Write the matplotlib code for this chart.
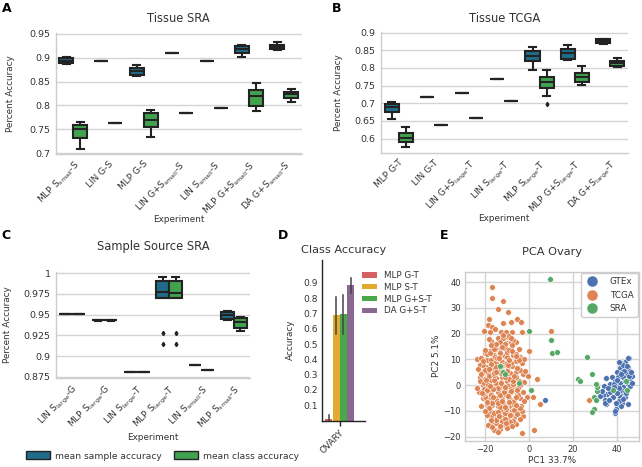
import matplotlib
matplotlib.use("Agg")
import matplotlib.pyplot as plt
from matplotlib.patches import Patch
from matplotlib.lines import Line2D
from matplotlib.ticker import FuncFormatter
import numpy as np

# ---------------- data ----------------
A_cats = [r"MLP S$_{\mathrm{small}}$-S", "LIN G-S", "MLP G-S", r"LIN G+S$_{\mathrm{small}}$-S",
          r"LIN S$_{\mathrm{small}}$-S", r"MLP G+S$_{\mathrm{small}}$-S", r"DA G+S$_{\mathrm{small}}$-S"]
A_samp_lo  = [0.887, 0.8938, 0.862, 0.9093, 0.8938, 0.902, 0.917]
A_samp_q1  = [0.888, 0.8938, 0.8636, 0.9093, 0.8938, 0.9093, 0.9184]
A_samp_med = [0.894, 0.8938, 0.872, 0.9093, 0.8938, 0.9177, 0.9233]
A_samp_q3  = [0.899, 0.8938, 0.8777, 0.9093, 0.8938, 0.9247, 0.9268]
A_samp_hi  = [0.901, 0.8938, 0.8847, 0.9093, 0.8938, 0.9265, 0.9324]
A_cls_lo   = [0.709, 0.7639, 0.7337, 0.7843, 0.7948, 0.7892, 0.8074]
A_cls_q1   = [0.7323, 0.7639, 0.7548, 0.7843, 0.7948, 0.799, 0.8145]
A_cls_med  = [0.7499, 0.7639, 0.7702, 0.7843, 0.7948, 0.820, 0.823]
A_cls_q3   = [0.7583, 0.7639, 0.7843, 0.7843, 0.7948, 0.8313, 0.8271]
A_cls_hi   = [0.7653, 0.7639, 0.7899, 0.7843, 0.7948, 0.846, 0.8341]

B_cats = ["MLP G-T", "LIN G-T", r"LIN G+S$_{\mathrm{large}}$-T", r"LIN S$_{\mathrm{large}}$-T",
          r"MLP S$_{\mathrm{large}}$-T", r"MLP G+S$_{\mathrm{large}}$-T", r"DA G+S$_{\mathrm{large}}$-T"]
B_samp_lo  = [0.6547, 0.7191, 0.7295, 0.7693, 0.793, 0.824, 0.8687]
B_samp_q1  = [0.6746, 0.7191, 0.7295, 0.7693, 0.8186, 0.8252, 0.8706]
B_samp_med = [0.6898, 0.7191, 0.7295, 0.7693, 0.8328, 0.8422, 0.8773]
B_samp_q3  = [0.6992, 0.7191, 0.7295, 0.7693, 0.8489, 0.8545, 0.881]
B_samp_hi  = [0.705, 0.7191, 0.7295, 0.7693, 0.8593, 0.8659, 0.883]
B_cls_lo   = [0.5761, 0.6386, 0.6576, 0.7078, 0.721, 0.7523, 0.8034]
B_cls_q1   = [0.5894, 0.6386, 0.6576, 0.7078, 0.7428, 0.7598, 0.8063]
B_cls_med  = [0.6027, 0.6386, 0.6576, 0.7078, 0.7598, 0.7741, 0.8138]
B_cls_q3   = [0.6169, 0.6386, 0.6576, 0.7078, 0.775, 0.7854, 0.8186]
B_cls_hi   = [0.6339, 0.6386, 0.6576, 0.7078, 0.793, 0.8044, 0.828]
B_cls_fliers = [[], [], [], [], [0.6973], [], []]

C_cats = [r"LIN S$_{\mathrm{large}}$-G", r"MLP S$_{\mathrm{large}}$-G", r"LIN S$_{\mathrm{large}}$-T",
          r"MLP S$_{\mathrm{large}}$-T", r"LIN S$_{\mathrm{small}}$-S", r"MLP S$_{\mathrm{small}}$-S"]
C_samp_lo  = [0.9508, 0.9424, 0.8811, 0.9705, 0.8897, 0.9438]
C_samp_q1  = [0.9508, 0.943, 0.8811, 0.9705, 0.8897, 0.945]
C_samp_med = [0.9508, 0.943, 0.8811, 0.977, 0.8897, 0.950]
C_samp_q3  = [0.9508, 0.943, 0.8811, 0.991, 0.8897, 0.9533]
C_samp_hi  = [0.9508, 0.9437, 0.8811, 0.9959, 0.8897, 0.9549]
C_cls_lo   = [0.9508, 0.9424, 0.8811, 0.9705, 0.8836, 0.9307]
C_cls_q1   = [0.9508, 0.943, 0.8811, 0.9705, 0.8836, 0.9344]
C_cls_med  = [0.9508, 0.943, 0.8811, 0.976, 0.8836, 0.941]
C_cls_q3   = [0.9508, 0.943, 0.8811, 0.991, 0.8836, 0.9459]
C_cls_hi   = [0.9508, 0.9437, 0.8811, 0.9959, 0.8836, 0.9467]
C_samp_fliers = [[], [], [], [0.9283, 0.9143], [], []]
C_cls_fliers  = [[], [], [], [0.9283, 0.9143], [], []]

D_cat = "OVARY"
D_models = ["MLP G-T", "MLP S-T", "MLP G+S-T", "DA G+S-T"]
D_means = [0.012, 0.69, 0.70, 0.885]
D_lo = [0.0, 0.565, 0.565, 0.835]
D_hi = [0.035, 0.81, 0.82, 0.935]

E_gtex_x = [7.5, 45.4, 44.0, 42.2, 45.1, 43.3, 41.5, 45.5, 40.0, 42.5, 44.5, 38.0, 40.6, 43.0, 46.0,
            35.3, 39.1, 41.5, 44.8, 37.0, 34.3, 40.3, 43.0, 38.0, 35.8, 34.0, 40.6, 42.5, 41.5, 44.0,
            34.6, 35.0, 42.5, 40.0, 41.8, 39.5, 39.1, 32.5, 33.2, 34.7, 35.1, 39.0, 39.4, 45.2, 47.0,
            43.5, 45.8, 42.0, 44.0, 46.0, 41.0, 43.0, 38.5, 37.0, 40.0, 42.8, 44.5, 46.5, 36.5, 39.5,
            43.8, 41.2, 45.0, 42.0, 40.2, 44.2, 46.8, 38.8, 36.0, 41.0]
E_gtex_y = [-5.6, 10.5, 8.9, 8.5, 6.9, 6.6, 6.6, 5.6, 5.3, 5.0, 4.3, 3.3, 3.3, 3.0, 2.7,
            2.7, 1.7, 1.0, 0.7, 0.4, -0.3, -0.7, -0.9, -1.6, -3.3, -3.8, -2.5, -3.8, -4.8, -4.6,
            -5.9, -7.4, -6.8, -8.1, -8.1, -9.4, -10.7, -4.2, -2.4, -7.0, 2.9, 0.5, -10.0, 10.6, 3.6,
            5.5, 3.5, -1.8, -2.5, -0.5, -6.0, -5.5, -4.5, -2.5, 2.0, 8.0, 7.5, 5.0, -5.8, -6.8,
            1.5, -1.2, -7.5, 4.2, -3.2, -3.0, 1.0, -0.8, -1.0, 9.0]

E_tcga_x = [-16.5, -16.9, -11.7, -14.0, -9.5, -18.0, -18.4, -11.7, -8.0, -5.3, -3.5, -16.6, -20.4, -17.7,
            -12.5, -10.5, -7.5, -3.0, -14.0, -11.7, -9.5, -17.3, -12.9, -10.5, -8.0, -5.7, 0.0, -14.7,
            -12.5, -10.2, -8.0, -4.5, -17.7, -20.0, -15.9, -13.2, -11.0, -7.2, -3.9, -23.4, -21.5, -19.2,
            -17.0, -15.0, -9.0, -5.7, -3.0, -22.2, -20.4, -18.5, -16.2, -9.5, -7.5, -5.0, -23.0, -20.7,
            -18.5, -16.2, -8.7, -6.0, -2.7, -0.5, 3.8, -22.2, -20.0, -17.7, -14.7, -12.5, -10.0, -7.5,
            -4.5, -2.0, -21.0, -18.5, -16.0, -13.2, -10.2, -6.5, -3.9, -22.5, -19.5, -17.0, -14.0, -11.0,
            -8.0, -5.4, -2.7, -19.5, -17.4, -14.7, -12.0, -9.0, -6.5, -3.9, -0.9, 1.8, 5.1, -19.2, -16.5,
            -14.0, -11.7, -9.0, -6.5, -3.5, -17.7, -15.0, -12.5, -10.0, -7.5, -4.5, -16.9, -14.3, -11.7,
            -9.0, -6.5, -2.7, -14.7, -11.7, -9.0, -5.7, -14.3, -3.0, 2.3, 10.2, 27.2,
            -21.0, -19.0, -18.0, -16.0, -15.0, -14.0, -13.0, -12.0, -11.0, -10.0, -9.0, -8.0, -7.0, -6.0,
            -5.0, -4.0, -18.0, -16.0, -13.0, -11.0, -8.0, -6.0, -4.0, -15.0, -12.0, -10.0, -7.0, -20.0,
            -17.0, -14.0, -12.0, -10.0, -8.0, -6.0, -4.0, -19.0, -16.0, -13.0, -11.0, -9.0, -7.0, -15.0,
            -17.0, -20.5, -22.0, -23.5, -21.5, -19.0, -17.0, -13.0, -11.0, -9.0, -5.0, -3.0, -2.0, -1.5,
            -2.0, -12.5, -13.5, -10.5, -15.5, -18.5, -20.0, -14.0, -12.0, -9.5, -7.0, -5.5, -16.0, -19.0,
            -10.0, -8.0,
            -21.8, -20.2, -18.8, -17.2, -15.8, -14.4, -13.0, -11.6, -10.2, -8.8, -7.4, -6.0, -4.6,
            -21.0, -19.6, -18.2, -16.8, -15.4, -14.0, -12.6, -11.2, -9.8, -8.4, -7.0, -5.6, -4.2,
            -20.6, -19.2, -17.8, -16.4, -15.0, -13.6, -12.2, -10.8, -9.4, -8.0, -6.6, -5.2,
            -19.8, -18.4, -17.0, -15.6, -14.2, -12.8, -11.4, -10.0, -8.6, -7.2, -5.8,
            -18.6, -17.2, -15.8, -14.4, -13.0, -11.6, -10.2, -8.8, -7.4,
            -21.4, -19.9, -18.0, -16.6, -15.2, -13.8, -12.4, -11.0, -9.6, -8.2, -6.8, -5.3,
            -17.5, -14.8, -12.0, -9.2, -16.2, -13.4, -10.6, -7.8]
E_tcga_y = [38.1, 33.8, 32.7, 29.6, 28.3, 25.6, 23.3, 24.3, 24.5, 25.7, 24.6, 22.7, 21.1, 20.7,
            20.5, 20.5, 20.5, 20.7, 18.4, 18.4, 18.8, 17.1, 16.6, 16.2, 16.8, 16.8, 13.4, 14.2,
            14.2, 14.0, 14.2, 14.0, 13.2, 12.3, 11.6, 11.6, 11.3, 11.9, 11.1, 10.3, 10.7, 9.6,
            9.6, 9.0, 9.6, 9.3, 8.7, 8.0, 7.4, 7.0, 6.7, 7.0, 7.4, 6.7, 6.1, 5.3,
            4.8, 4.4, 4.8, 5.1, 4.4, 3.5, 2.5, 3.1, 2.5, 1.8, 2.7, 1.2, 1.8, 1.4,
            1.8, 1.2, -0.1, 0.1, -0.4, -0.8, -0.8, -0.4, -0.1, -2.7, -2.5, -3.0, -2.7, -3.4,
            -2.7, -3.4, -2.7, -4.7, -5.3, -5.1, -5.3, -5.1, -5.6, -5.1, -4.7, -4.7, -7.5, -7.3, -7.7,
            -8.0, -7.3, -8.0, -7.7, -8.2, -9.9, -10.3, -9.9, -10.3, -9.9, -10.6, -12.1, -12.5, -12.1,
            -12.9, -12.5, -12.1, -14.7, -15.1, -15.8, -15.1, -17.3, -18.6, -17.3, 21.2, -5.6,
            -5.0, -1.0, 3.5, -1.5, 1.0, 5.5, -4.0, 3.0, -1.5, 5.5, -3.0, 2.5, -6.5, 3.0,
            -1.0, 6.0, -9.0, -11.0, -8.5, -11.0, -11.5, -9.0, -13.0, -13.5, -14.0, -16.5, -14.0, 6.0,
            8.0, 10.0, 9.0, 11.0, 8.5, 12.0, 10.0, 12.0, 14.0, 13.0, 16.0, 19.0, 17.5, 16.0,
            -4.0, -1.5, 1.5, -1.0, -8.0, -11.5, -14.5, -17.0, -13.0, -6.5, -4.0, -10.0, -6.0, 5.5,
            10.0, 6.0, -11.5, -8.5, -6.0, -6.5, -4.5, -1.0, 0.0, -0.5, 0.5, -2.0, 2.0, 0.5,
            3.5, -1.5,
            4.2, 0.8, -2.0, 8.2, 3.8, -6.2, 12.6, 7.8, -9.2, 2.2, 15.5, -4.8, 9.8,
            -3.6, 2.0, 6.4, -7.0, 10.8, -10.6, 4.8, -2.2, 8.6, -14.2, 0.6, 11.4, -8.8,
            9.4, -6.4, 12.4, -1.6, 7.2, -12.0, 15.0, 3.2, -4.4, 18.2, -9.6, 6.8,
            -10.2, 0.2, -13.6, 4.6, -6.8, 7.6, -2.8, 12.8, -11.6, 1.6, -7.6,
            -15.4, 15.6, -17.6, 10.4, -16.0, 19.6, -14.6, 13.8, -15.8,
            -3.2, 13.6, 17.8, -16.4, 22.0, -18.2, 1.0, -0.6, 8.0, -2.4, 3.6, -11.2,
            -0.2, 5.0, -6.0, 9.6, -4.6, 10.6, -8.4, 13.2]

E_sra_x = [0.0, -13.1, -11.6, -10.7, -4.5, 1.0, 9.6, 10.2, 10.5, 12.9, 26.7, 22.5, 23.3, 28.6,
           31.0, 29.6, 30.6, 29.5, 29.0, 38.4, 44.2, 44.8, 31.2, 30.4]
E_sra_y = [21.0, 7.4, 5.1, 4.2, 0.9, -1.7, 41.1, 17.7, 12.4, 12.7, 11.1, 2.2, 1.8, 4.5,
           -2.1, -4.6, -5.6, -9.4, -10.5, -2.0, 1.8, -1.8, -0.9, 0.4]

# ---------------- styling ----------------
BLUE = "#1f6d8b"
GREEN = "#41a24f"
EDGE = "#232323"
GRID = "#d4d4d4"
TXT = "#333333"
D_COLORS = ["#d65f5f", "#e3aa30", "#4aa84a", "#8a6891"]
E_COLORS = {"GTEx": "#4c72b0", "TCGA": "#dd8452", "SRA": "#55a868"}

plt.rcParams["font.family"] = ["DejaVu Sans"]
plt.rcParams["text.color"] = TXT
plt.rcParams["axes.labelcolor"] = TXT
plt.rcParams["xtick.color"] = TXT
plt.rcParams["ytick.color"] = TXT

fig = plt.figure(figsize=(6.42, 4.67), dpi=100)
W, H = 642.0, 467.0


def add_ax(l, t, r, b):
    return fig.add_axes([l / W, 1 - b / H, (r - l) / W, (b - t) / H])


fmt_g = FuncFormatter(lambda v, p: "%g" % round(v, 4))


def box_panel(ax, cats, samp, cls, samp_fl, cls_fl, ylim, yticks, title, title_pad,
              ylab_x, xlab_y):
    n = len(cats)
    x = np.arange(n)
    for stats5, fl, color, off in [(samp, samp_fl, BLUE, -0.2), (cls, cls_fl, GREEN, 0.2)]:
        lo, q1, med, q3, hi = stats5
        st = [dict(whislo=lo[i], q1=q1[i], med=med[i], q3=q3[i], whishi=hi[i],
                   fliers=fl[i]) for i in range(n)]
        ax.bxp(st, positions=x + off, widths=0.4, patch_artist=True, showfliers=True,
               boxprops=dict(facecolor=color, edgecolor=EDGE, linewidth=1.5),
               medianprops=dict(color=EDGE, linewidth=1.5),
               whiskerprops=dict(color=EDGE, linewidth=1.5),
               capprops=dict(color=EDGE, linewidth=1.5),
               flierprops=dict(marker="d", markersize=2.2, markerfacecolor=EDGE,
                               markeredgecolor=EDGE),
               manage_ticks=False, zorder=3)
    ax.set_xlim(-0.5, n - 0.5)
    ax.set_ylim(*ylim)
    ax.set_yticks(yticks)
    ax.yaxis.set_major_formatter(fmt_g)
    ax.set_xticks(x)
    ax.set_xticklabels(cats, rotation=45, ha="right", rotation_mode="anchor", fontsize=6.5)
    ax.tick_params(axis="y", labelsize=6.8, length=0, pad=4)
    ax.tick_params(axis="x", length=0, pad=4)
    ax.grid(axis="y", color=GRID, linewidth=1.0)
    ax.set_axisbelow(True)
    for s in ["top", "right"]:
        ax.spines[s].set_visible(False)
    for s in ["left", "bottom"]:
        ax.spines[s].set_color("#cccccc")
        ax.spines[s].set_linewidth(1.0)
    ax.set_title(title, fontsize=8.3, pad=title_pad, color=TXT)
    ax.set_ylabel("Percent Accuracy", fontsize=6.4)
    ax.set_xlabel("Experiment", fontsize=6.4)
    ax.yaxis.set_label_coords(ylab_x, 0.5)
    ax.xaxis.set_label_coords(0.5, xlab_y)


# Panel A
axA = add_ax(55.7, 33, 301.7, 153.5)
box_panel(axA, A_cats,
          (A_samp_lo, A_samp_q1, A_samp_med, A_samp_q3, A_samp_hi),
          (A_cls_lo, A_cls_q1, A_cls_med, A_cls_q3, A_cls_hi),
          [[] for _ in A_cats], [[] for _ in A_cats],
          (0.699, 0.952), [0.7, 0.75, 0.8, 0.85, 0.9, 0.95], "Tissue SRA", 8,
          -0.165, -0.51)

# Panel B
axB = add_ax(381, 32, 627.7, 152.7)
box_panel(axB, B_cats,
          (B_samp_lo, B_samp_q1, B_samp_med, B_samp_q3, B_samp_hi),
          (B_cls_lo, B_cls_q1, B_cls_med, B_cls_q3, B_cls_hi),
          [[] for _ in B_cats], B_cls_fliers,
          (0.56, 0.902), [0.6, 0.65, 0.7, 0.75, 0.8, 0.85, 0.9], "Tissue TCGA", 7,
          -0.155, -0.505)

# Panel C
axC = add_ax(56, 272, 250, 377.7)
box_panel(axC, C_cats,
          (C_samp_lo, C_samp_q1, C_samp_med, C_samp_q3, C_samp_hi),
          (C_cls_lo, C_cls_q1, C_cls_med, C_cls_q3, C_cls_hi),
          C_samp_fliers, C_cls_fliers,
          (0.874, 1.0015), [0.875, 0.9, 0.925, 0.95, 0.975, 1.0], "Sample Source SRA", 16,
          -0.225, -0.52)

# Panel D
axD = add_ax(321.7, 260, 365, 420.5)
offs = np.array([-0.3, -0.1, 0.1, 0.3])
for i, m in enumerate(D_models):
    axD.bar(offs[i], D_means[i], width=0.19, color=D_COLORS[i], label=m, zorder=2)
    axD.plot([offs[i], offs[i]], [D_lo[i], D_hi[i]], color="#444444", linewidth=1.1, zorder=3)
axD.set_xlim(-0.5, 0.7)
axD.set_ylim(0, 1.05)
axD.set_yticks([0.1, 0.2, 0.3, 0.4, 0.5, 0.6, 0.7, 0.8, 0.9])
axD.yaxis.set_major_formatter(fmt_g)
axD.set_xticks([0])
axD.set_xticklabels([D_cat], rotation=45, ha="right", rotation_mode="anchor", fontsize=6.5)
axD.tick_params(axis="y", labelsize=6.6, length=0, pad=3)
axD.tick_params(axis="x", length=3.5, width=1.0, color="#222222", pad=2)
for s in ["top", "right"]:
    axD.spines[s].set_visible(False)
for s in ["left", "bottom"]:
    axD.spines[s].set_color("#222222")
    axD.spines[s].set_linewidth(1.0)
axD.set_title("Class Accuracy", fontsize=8.2, pad=5)
axD.set_ylabel("Accuracy", fontsize=6.4)
axD.yaxis.set_label_coords(-0.62, 0.5)
axD.legend(loc="upper left", bbox_to_anchor=(362 / W, 1 - 271 / H),
           bbox_transform=fig.transFigure, frameon=False, fontsize=6.3,
           borderpad=0, borderaxespad=0, handlelength=1.75, handleheight=0.55,
           handletextpad=0.75, labelspacing=0.32)

# Panel E
axE = add_ax(465, 271.7, 639.3, 440.7)
for name, xs, ys in [("GTEx", E_gtex_x, E_gtex_y), ("TCGA", E_tcga_x, E_tcga_y),
                     ("SRA", E_sra_x, E_sra_y)]:
    axE.scatter(xs, ys, s=17, color=E_COLORS[name], edgecolors="white", linewidths=0.4,
                zorder=3, label=name)
axE.set_xlim(-29, 50.3)
axE.set_ylim(-21.6, 44.1)
axE.set_xticks([-20, 0, 20, 40])
axE.set_yticks([-20, -10, 0, 10, 20, 30, 40])
axE.grid(True, color=GRID, linewidth=1.0)
axE.set_axisbelow(True)
axE.tick_params(labelsize=6.0, length=0, pad=3)
for s in axE.spines.values():
    s.set_color("#cccccc")
    s.set_linewidth(1.0)
axE.set_title("PCA Ovary", fontsize=8.2, pad=12)
axE.set_xlabel("PC1 33.7%", fontsize=6.4)
axE.set_ylabel("PC2 5.1%", fontsize=6.4)
axE.yaxis.set_label_coords(-0.14, 0.5)
axE.xaxis.set_label_coords(0.5, -0.09)
eh = [Line2D([], [], marker="o", linestyle="", markersize=8, color=E_COLORS[k],
             markeredgecolor="white", markeredgewidth=0.4) for k in ["GTEx", "TCGA", "SRA"]]
axE.legend(eh, ["GTEx", "TCGA", "SRA"], loc="upper right", fontsize=6.3,
           borderaxespad=0.2, handletextpad=1.2, labelspacing=0.5, handlelength=1.6,
           edgecolor="#cccccc", framealpha=1.0, borderpad=0.45)

# Figure legend for box colours
fh = [Patch(facecolor=BLUE, edgecolor=EDGE, linewidth=1.0),
      Patch(facecolor=GREEN, edgecolor=EDGE, linewidth=1.0)]
fig.legend(fh, ["mean sample accuracy", "mean class accuracy"], loc="center left",
           bbox_to_anchor=(26 / W, 1 - 456 / H), ncol=2, frameon=False, fontsize=6.6,
           borderpad=0, borderaxespad=0, handlelength=2.6, handleheight=0.95,
           handletextpad=0.55, columnspacing=1.4)

# panel letters
for lab, px, py in [("A", 2, 2), ("B", 332, 2), ("C", 1, 229), ("D", 278, 229), ("E", 440, 229)]:
    fig.text(px / W, 1 - py / H, lab, fontsize=9, fontweight="bold", color="black",
             ha="left", va="top")

fig.savefig("out.png", dpi=100)
